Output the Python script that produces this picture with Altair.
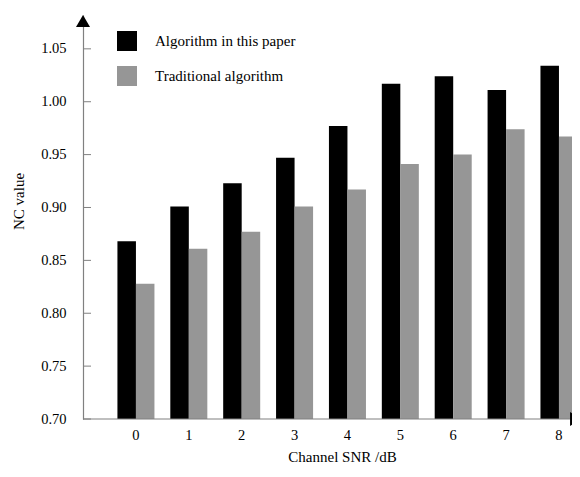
import altair as alt
import pandas as pd

snr = [0, 1, 2, 3, 4, 5, 6, 7, 8]
ours = [0.868, 0.901, 0.923, 0.947, 0.977, 1.017, 1.024, 1.011, 1.034]
trad = [0.828, 0.861, 0.877, 0.901, 0.917, 0.941, 0.950, 0.974, 0.967]
series = ["Algorithm in this paper", "Traditional algorithm"]
colors = ["#000000", "#969696"]
y_ticks = [0.70, 0.75, 0.80, 0.85, 0.90, 0.95, 1.00, 1.05]

rows = []
for i, s in enumerate(snr):
    rows.append({"snr": str(s), "series": series[0], "nc": ours[i]})
    rows.append({"snr": str(s), "series": series[1], "nc": trad[i]})
df = pd.DataFrame(rows)

FONT = "Liberation Serif"
W, H = 489, 404
ymin, ymax = 0.70, 1.082

yscale = alt.Scale(domain=[ymin, ymax], zero=False, nice=False)

bars = alt.Chart(df).mark_bar().encode(
    x=alt.X("snr:N", sort=[str(s) for s in snr],
            scale=alt.Scale(range=[26.5, 502.4], paddingInner=0.3, paddingOuter=0.15),
            axis=alt.Axis(title="Channel SNR /dB", domain=False, ticks=False, labelAngle=0,
                          labelFont=FONT, labelFontSize=14.5, labelColor="#000",
                          labelPadding=9, titleFont=FONT, titleFontSize=15,
                          titleFontWeight="normal", titleColor="#000",
                          titleX=259, titleY=37, titleBaseline="middle")),
    xOffset=alt.XOffset("series:N", sort=series,
                        scale=alt.Scale(domain=series, paddingInner=0, paddingOuter=0)),
    y=alt.Y("nc:Q", scale=yscale,
            axis=alt.Axis(title="NC value", values=y_ticks, format=".2f", ticks=False,
                          grid=False, domainColor="#808080", domainWidth=1.2,
                          labelFont=FONT, labelFontSize=14.5, labelColor="#000",
                          labelPadding=17, titleFont=FONT, titleFontSize=15,
                          titleFontWeight="normal", titleColor="#000",
                          titleAngle=270, titleX=-65, titleY=186,
                          titleBaseline="middle", titleAlign="center")),
    y2=alt.datum(ymin),
    color=alt.Color("series:N", sort=series,
                    scale=alt.Scale(domain=series, range=colors),
                    legend=alt.Legend(title=None, orient="none", legendX=34, legendY=16,
                                      symbolType="square", symbolSize=400,
                                      symbolStrokeWidth=0, symbolOpacity=1,
                                      labelFont=FONT, labelFontSize=15, labelColor="#000",
                                      labelOffset=18, rowPadding=15, padding=0,
                                      labelLimit=300)),
)

tick_df = pd.DataFrame({"v": y_ticks})
ticks = alt.Chart(tick_df).mark_rule(color="#808080", strokeWidth=1).encode(
    y=alt.Y("v:Q", scale=yscale),
    x=alt.value(0), x2=alt.value(8),
)

xaxis_line = alt.Chart(pd.DataFrame({"a": [0]})).mark_rule(color="#808080", strokeWidth=1.2).encode(
    x=alt.value(0), x2=alt.value(W), y=alt.value(H),
)

arrow_up = alt.Chart(pd.DataFrame({"a": [0]})).mark_point(
    shape="M0,-0.85L1,0.85L-1,0.85Z", size=196, filled=True, color="#000", opacity=1
).encode(x=alt.value(0), y=alt.value(6))

arrow_right = alt.Chart(pd.DataFrame({"a": [0]})).mark_point(
    shape="M0.85,0L-0.85,-1L-0.85,1Z", size=196, filled=True, color="#000", opacity=1
).encode(x=alt.value(W + 4), y=alt.value(H))

chart = alt.layer(bars, ticks, xaxis_line, arrow_up, arrow_right).properties(
    width=W, height=H,
    background="white",
    autosize=alt.AutoSizeParams(type="none"),
    padding={"left": 75, "top": 7, "right": 0, "bottom": 50},
).configure_view(strokeWidth=0, stroke="transparent")

chart.save("out.html", embed_options={"renderer": "svg", "actions": False})
